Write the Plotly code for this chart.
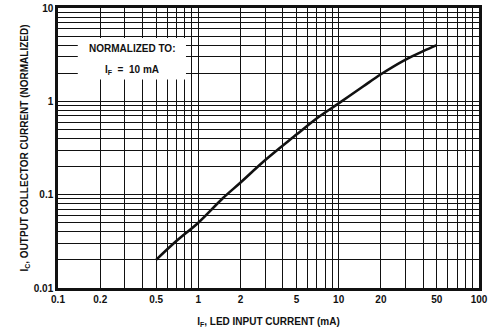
"""
Output collector current (normalized) vs LED input current, log-log
"""

import plotly.graph_objects as go

# curve
if_ma = [0.5, 0.7, 1, 1.5, 2, 3, 5, 7, 10, 15, 20, 30, 40, 50]
ic_norm = [0.02, 0.032, 0.05, 0.092, 0.135, 0.235, 0.44, 0.66, 0.95, 1.45, 1.95, 2.8, 3.45, 4.0]

x_ticks = [0.1, 0.2, 0.5, 1, 2, 5, 10, 20, 50, 100]
x_ticktext = ["0.1", "0.2", "0.5", "1", "2", "5", "10", "20", "50", "100"]
y_ticks = [0.01, 0.1, 1, 10]
y_ticktext = ["0.01", "0.1", "1", "10"]

# every 1..9 line in each decade
x_minor = [m * d for d in (0.1, 1, 10) for m in range(1, 10)] + [100]
y_minor = [m * d for d in (0.01, 0.1, 1) for m in range(1, 10)] + [10]

FONT = "Liberation Sans, Arial, sans-serif"
INK = "#111111"

fig = go.Figure()

fig.add_trace(
    go.Scatter(
        x=if_ma,
        y=ic_norm,
        mode="lines",
        line=dict(color=INK, width=2.6, shape="spline"),
        showlegend=False,
        hoverinfo="x+y",
    )
)

# white box behind the note
fig.add_shape(
    type="rect",
    xref="paper", yref="paper",
    x0=0.047, x1=0.304, y0=0.745, y1=0.893,
    fillcolor="white", line=dict(width=0),
    layer="above",
)
fig.add_annotation(
    text="<b>NORMALIZED TO:</b>",
    xref="paper", yref="paper", x=0.176, y=0.856,
    xanchor="center", yanchor="middle",
    showarrow=False, font=dict(size=10, color=INK, family=FONT),
)
fig.add_annotation(
    text="<b>I<sub>F</sub>  =  10 mA</b>",
    xref="paper", yref="paper", x=0.176, y=0.78,
    xanchor="center", yanchor="middle",
    showarrow=False, font=dict(size=10, color=INK, family=FONT),
)

axis_common = dict(
    automargin=False,
    showline=True,
    linecolor=INK,
    linewidth=2.5,
    mirror=True,
    showgrid=True,
    gridcolor=INK,
    gridwidth=1.4,
    zeroline=False,
    ticks="",
    tickfont=dict(size=10, color=INK, family=FONT),
)

fig.update_layout(
    template="none",
    width=488,
    height=335,
    margin=dict(l=58, r=9, t=8, b=47),
    paper_bgcolor="white",
    plot_bgcolor="white",
    font=dict(family=FONT, color=INK),
    xaxis=dict(
        type="log",
        range=[-1, 2],
        tickvals=x_ticks,
        ticktext=[f"<b>{t}</b>" for t in x_ticktext],
        minor=dict(tickvals=x_minor, showgrid=True, gridcolor=INK, gridwidth=1.1, ticks=""),
        title=dict(
            text="<b>I<sub>F</sub>, LED INPUT CURRENT (mA)</b>",
            font=dict(size=10, color=INK, family=FONT),
            standoff=15,
        ),
        **axis_common,
    ),
    yaxis=dict(
        type="log",
        range=[-2, 1],
        tickvals=y_ticks,
        ticktext=[f"<b>{t}</b>" for t in y_ticktext],
        minor=dict(tickvals=y_minor, showgrid=True, gridcolor=INK, gridwidth=1.2, ticks=""),
        title=dict(
            text="<b>I<sub>C</sub>, OUTPUT COLLECTOR CURRENT (NORMALIZED)</b>",
            font=dict(size=10, color=INK, family=FONT),
            standoff=4,
        ),
        **axis_common,
    ),
)

# page body has a default 8px margin; drop it so the figure sits at 0,0
fig.write_html(
    "out.html",
    config={"displayModeBar": False},
    post_script="document.body.style.margin='0';",
)
